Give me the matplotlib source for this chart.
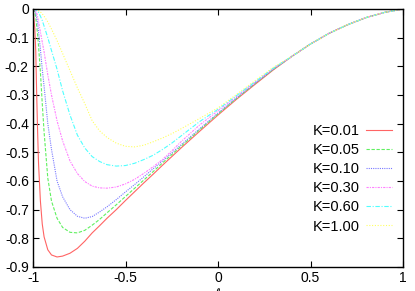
import numpy as np
import matplotlib
matplotlib.use('Agg')
import matplotlib.pyplot as plt

plt.rcParams['font.family'] = ['Liberation Sans', 'DejaVu Sans']

# values
x = [-1.0, -0.99, -0.985, -0.98, -0.975, -0.97, -0.96, -0.95, -0.94, -0.92, -0.9,
     -0.87, -0.84, -0.8, -0.76, -0.72, -0.68, -0.64, -0.6, -0.55, -0.5, -0.45,
     -0.4, -0.35, -0.3, -0.25, -0.2, -0.1, 0.0, 0.1, 0.2, 0.3, 0.4, 0.5, 0.6,
     0.7, 0.8, 0.9, 1.0]

k_labels = ['K=0.01', 'K=0.05', 'K=0.10', 'K=0.30', 'K=0.60', 'K=1.00']

y_k001 = [0.0, -0.07, -0.15, -0.30, -0.43, -0.54, -0.67, -0.75, -0.795, -0.84, -0.858,
          -0.865, -0.862, -0.852, -0.835, -0.81, -0.781, -0.756, -0.73, -0.70, -0.668, -0.637,
          -0.606, -0.576, -0.545, -0.515, -0.485, -0.427, -0.37, -0.315, -0.263, -0.212, -0.165, -0.122, -0.085,
          -0.055, -0.03, -0.012, 0.0]
y_k005 = [0.0, -0.01, -0.03, -0.06, -0.09, -0.13, -0.22, -0.33, -0.43, -0.59, -0.67,
          -0.73, -0.762, -0.779, -0.781, -0.772, -0.754, -0.734, -0.711, -0.683, -0.654, -0.625,
          -0.596, -0.567, -0.537, -0.508, -0.479, -0.422, -0.366, -0.312, -0.26, -0.21, -0.165, -0.122, -0.085,
          -0.055, -0.03, -0.012, 0.0]
y_k010 = [0.0, -0.005, -0.015, -0.03, -0.05, -0.08, -0.14, -0.21, -0.27, -0.40, -0.49,
          -0.60, -0.655, -0.70, -0.723, -0.73, -0.724, -0.708, -0.69, -0.665, -0.638, -0.612,
          -0.585, -0.557, -0.53, -0.502, -0.474, -0.418, -0.363, -0.31, -0.259, -0.209, -0.165, -0.122, -0.085,
          -0.055, -0.03, -0.012, 0.0]
y_k030 = [0.0, -0.003, -0.008, -0.015, -0.028, -0.045, -0.08, -0.115, -0.15, -0.23, -0.30,
          -0.39, -0.46, -0.53, -0.574, -0.602, -0.618, -0.624, -0.625, -0.621, -0.61, -0.594,
          -0.573, -0.55, -0.525, -0.495, -0.463, -0.405, -0.355, -0.305, -0.256, -0.207, -0.165, -0.122, -0.085,
          -0.055, -0.03, -0.012, 0.0]
y_k060 = [0.0, -0.001, -0.002, -0.005, -0.008, -0.012, -0.025, -0.04, -0.06, -0.10, -0.145,
          -0.21, -0.285, -0.37, -0.44, -0.485, -0.515, -0.532, -0.543, -0.548, -0.546, -0.538,
          -0.525, -0.51, -0.49, -0.468, -0.443, -0.393, -0.35, -0.302, -0.254, -0.206, -0.165, -0.122, -0.085,
          -0.055, -0.03, -0.012, 0.0]
y_k100 = [0.0, 0.0, -0.001, -0.002, -0.004, -0.006, -0.01, -0.017, -0.025, -0.045, -0.07,
          -0.11, -0.155, -0.215, -0.275, -0.33, -0.39, -0.425, -0.448, -0.468, -0.479, -0.481,
          -0.475, -0.463, -0.45, -0.435, -0.418, -0.382, -0.345, -0.298, -0.25, -0.203, -0.165, -0.122, -0.085,
          -0.055, -0.03, -0.012, 0.0]

x_ticks = [-1, -0.5, 0, 0.5, 1]
x_ticklabels = ['-1', '-0.5', '0', '0.5', '1']
y_ticks = [0, -0.1, -0.2, -0.3, -0.4, -0.5, -0.6, -0.7, -0.8, -0.9]
y_ticklabels = ['0', '-0.1', '-0.2', '-0.3', '-0.4', '-0.5', '-0.6', '-0.7', '-0.8', '-0.9']

series = [y_k001, y_k005, y_k010, y_k030, y_k060, y_k100]
colors = ['#ff6464', '#60f060', '#7878ff', '#ff80ff', '#50ffff', '#ffff60']
styles = ['-', (0, (3, 1.5)), (0, (1, 1)), (0, (2, 1, 1, 1)), (0, (4, 1.5, 1, 1.5)), (0, (1, 1.5))]

fig = plt.figure(figsize=(4.15, 2.91), dpi=100)
ax = fig.add_axes([33 / 415, 1 - 267 / 291, 370 / 415, 258 / 291])

for ys, lab, c, ls in zip(series, k_labels, colors, styles):
    ax.plot(x, ys, color=c, linestyle=ls, linewidth=0.8, label=lab)

ax.set_xlim(-1, 1)
ax.set_ylim(-0.9, 0)
ax.set_xticks(x_ticks)
ax.set_xticklabels(x_ticklabels)
ax.set_yticks(y_ticks)
ax.set_yticklabels(y_ticklabels)
ax.tick_params(direction='in', length=4, width=0.8, top=True, right=True,
               labelsize=10, pad=3, colors='black')
for s in ax.spines.values():
    s.set_linewidth(1.0)

leg = ax.legend(loc='upper right', bbox_to_anchor=(0.970, 0.554), frameon=False,
                markerfirst=False, fontsize=10.5, borderpad=0, borderaxespad=0,
                handlelength=1.75, handletextpad=0.45, labelspacing=0.35)

# axis label, mostly cut off at the bottom edge as in the reference
fig.text(218 / 415, 1 - 287 / 291, r'$\ell$', ha='center', va='top', fontsize=10)

fig.savefig('out.png', dpi=100)
